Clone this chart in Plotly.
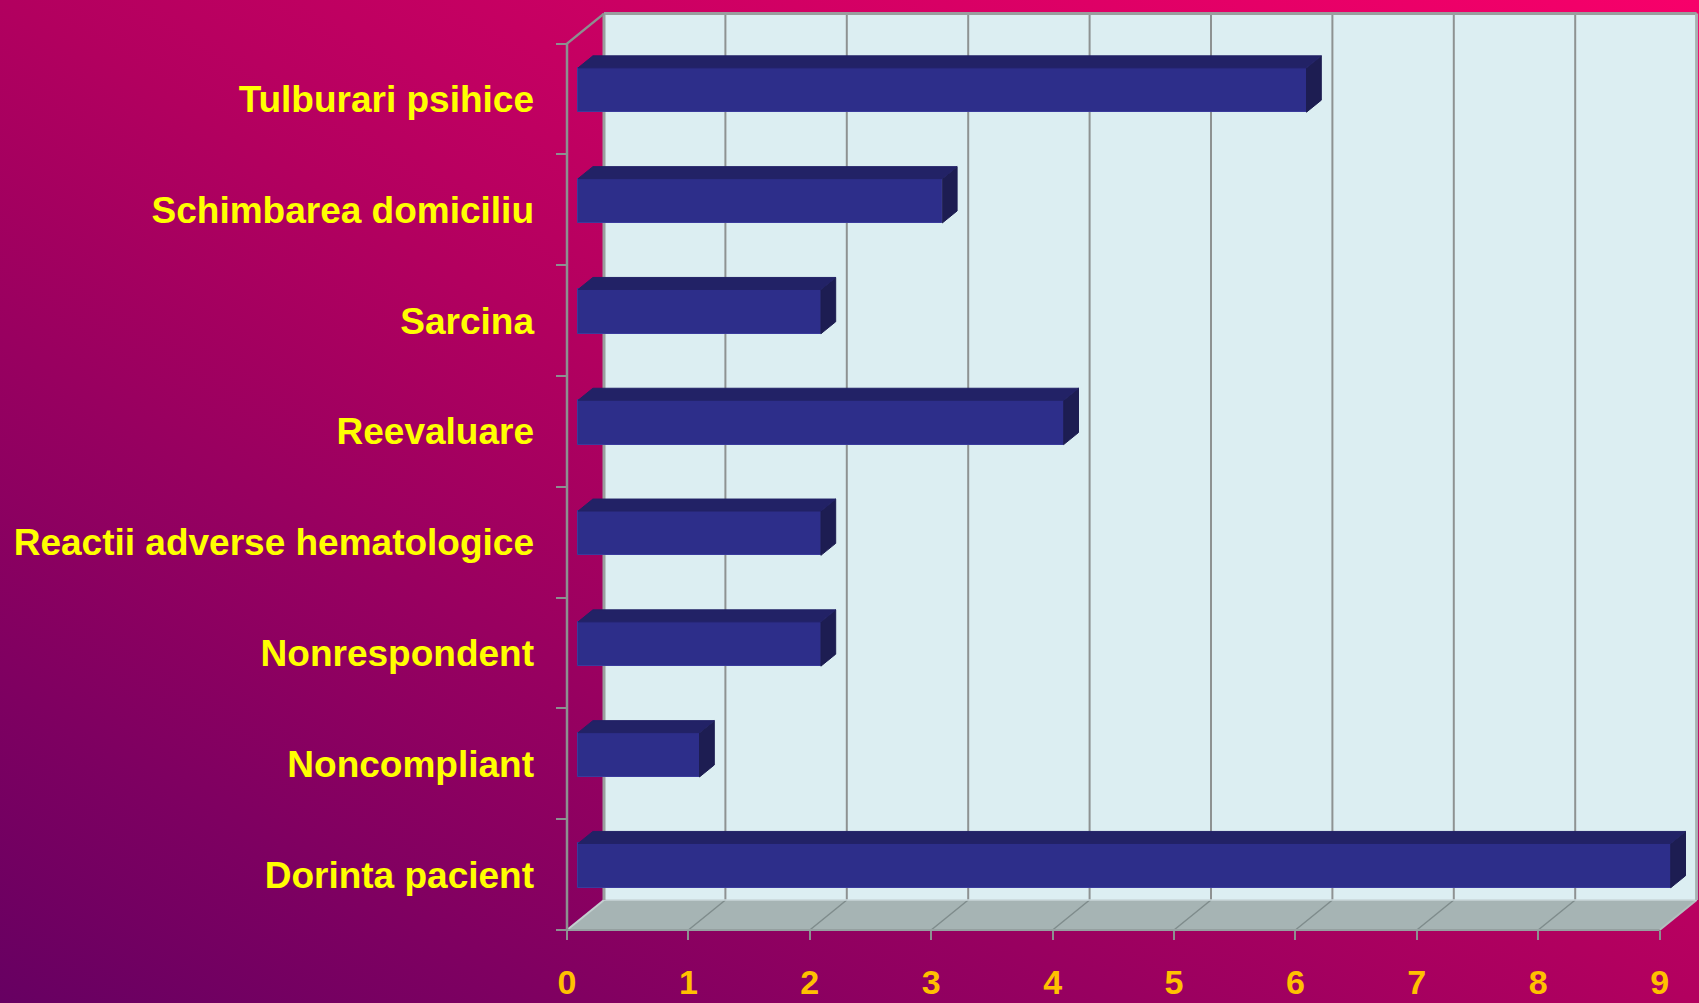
import base64
import plotly.graph_objects as go

# ---------------- data ----------------
categories = ["Dorinta pacient", "Noncompliant", "Nonrespondent",
              "Reactii adverse hematologice", "Reevaluare", "Sarcina",
              "Schimbarea domiciliu", "Tulburari psihice"]
values = [9, 1, 2, 2, 4, 2, 3, 6]
x_ticks = [0, 1, 2, 3, 4, 5, 6, 7, 8, 9]

# ---------------- geometry / style ----------------
W, H = 1699, 1003
ML, MR, MT, MB = 560, 0, 0, 63
AX_X = 567          # pixel of x=0 (front plane)
AX_Y = 930          # pixel of front floor edge
PX_X = 121.4        # pixels per x unit
PX_Y = 110.8        # pixels per category
plotW = W - ML - MR
plotH = H - MT - MB
x_range = [-(AX_X - ML) / PX_X, -(AX_X - ML) / PX_X + plotW / PX_X]
YLO = -0.5
YHI = len(categories) - 0.5
y0 = YLO - (H - MB - AX_Y) / PX_Y
y_range = [y0, y0 + plotH / PX_Y]
DX = 37 / PX_X      # depth offset of back wall (x units)
DY = 30 / PX_Y      # depth offset of back wall (category units)
XMAX = max(x_ticks)
F1, F2 = 0.30, 0.70  # bar front/back position in depth
BW = 0.40

FRONT = "#2D2E8A"
TOP = "#222266"
SIDE = "#1D1D52"
WALL = "#DCEEF2"
FLOOR = "#A6B4B4"
GRID = "#8E9292"
AXIS = "#8C9090"
FONT = "Liberation Sans, Arial, sans-serif"

fig = go.Figure()

# front faces (real bars)
fig.add_trace(go.Bar(
    y=[i + F1 * DY for i in range(len(categories))],
    x=values, base=F1 * DX, orientation="h", width=BW,
    marker=dict(color=FRONT, line=dict(color="#3A3B9C", width=1)),
    hoverinfo="skip", showlegend=False))

# top and side faces derived from values
tx, ty, sx, sy = [], [], [], []
for i, v in enumerate(values):
    b1 = i - BW / 2 + F1 * DY
    t1 = i + BW / 2 + F1 * DY
    b2 = i - BW / 2 + F2 * DY
    t2 = i + BW / 2 + F2 * DY
    xa, xb = F1 * DX, v + F1 * DX
    xc, xd = F2 * DX, v + F2 * DX
    tx += [xa, xb, xd, xc, xa, None]
    ty += [t1, t1, t2, t2, t1, None]
    sx += [xb, xd, xd, xb, xb, None]
    sy += [b1, b2, t2, t1, b1, None]
fig.add_trace(go.Scatter(x=tx, y=ty, fill="toself", fillcolor=TOP, mode="lines",
                         line=dict(color=TOP, width=1), hoverinfo="skip", showlegend=False,
                         yaxis="y2"))
fig.add_trace(go.Scatter(x=sx, y=sy, fill="toself", fillcolor=SIDE, mode="lines",
                         line=dict(color=SIDE, width=1), hoverinfo="skip", showlegend=False))

shapes = []
# back wall
shapes.append(dict(type="rect", xref="x", yref="y", x0=DX, x1=XMAX + DX,
                   y0=YLO + DY, y1=YHI + DY, fillcolor=WALL, line=dict(width=0), layer="below"))
for k in x_ticks[1:-1]:
    shapes.append(dict(type="line", xref="x", yref="y", x0=k + DX, x1=k + DX,
                       y0=YLO + DY, y1=YHI + DY, line=dict(color=GRID, width=2), layer="below"))
# floor
shapes.append(dict(type="path", xref="x", yref="y",
                   path=f"M0,{YLO} L{XMAX},{YLO} L{XMAX + DX},{YLO + DY} L{DX},{YLO + DY} Z",
                   fillcolor=FLOOR, line=dict(width=0), layer="below"))
for k in x_ticks[1:-1]:
    shapes.append(dict(type="line", xref="x", yref="y", x0=k, x1=k + DX,
                       y0=YLO, y1=YLO + DY, line=dict(color="#7F8C8C", width=1.5), layer="below"))
shapes.append(dict(type="line", xref="x", yref="y", x0=0, x1=DX, y0=YLO, y1=YLO + DY,
                   line=dict(color="#C3CFCF", width=2), layer="below"))
shapes.append(dict(type="line", xref="x", yref="y", x0=XMAX, x1=XMAX + DX, y0=YLO, y1=YLO + DY,
                   line=dict(color="#B3BFBF", width=2), layer="below"))
shapes.append(dict(type="line", xref="x", yref="y", x0=DX, x1=XMAX + DX, y0=YLO + DY, y1=YLO + DY,
                   line=dict(color="#C8D6D8", width=1.5), layer="below"))
shapes.append(dict(type="line", xref="x", yref="y", x0=0, x1=XMAX, y0=YLO, y1=YLO,
                   line=dict(color="#95A0A0", width=2), layer="below"))
# wall edges
shapes.append(dict(type="line", xref="x", yref="y", x0=DX, x1=XMAX + DX, y0=YHI + DY, y1=YHI + DY,
                   line=dict(color="#9A9E9E", width=3), layer="below"))
shapes.append(dict(type="line", xref="x", yref="y", x0=DX, x1=DX, y0=YLO + DY, y1=YHI + DY,
                   line=dict(color="#9A9E9E", width=3), layer="below"))
shapes.append(dict(type="line", xref="x", yref="y", x0=XMAX + DX, x1=XMAX + DX, y0=YLO + DY, y1=YHI + DY,
                   line=dict(color="#A8B2B2", width=3), layer="below"))
# front axis line and top diagonal
shapes.append(dict(type="line", xref="x", yref="y", x0=0, x1=0, y0=YLO, y1=YHI,
                   line=dict(color=AXIS, width=2.5), layer="below"))
shapes.append(dict(type="line", xref="x", yref="y", x0=0, x1=DX, y0=YHI, y1=YHI + DY,
                   line=dict(color=AXIS, width=2.5), layer="below"))

# gradient background
svg = (f'<svg xmlns="http://www.w3.org/2000/svg" width="{W}" height="{H}" '
       f'viewBox="0 0 {W} {H}" preserveAspectRatio="none"><defs>'
       '<linearGradient id="g" x1="0" y1="1" x2="1" y2="0">'
       '<stop offset="0" stop-color="#660062"/>'
       '<stop offset="0.5" stop-color="#B2005F"/>'
       '<stop offset="1" stop-color="#F8006A"/>'
       f'</linearGradient></defs><rect width="{W}" height="{H}" fill="url(#g)"/></svg>')
src = "data:image/svg+xml;base64," + base64.b64encode(svg.encode()).decode()

ax_pos_x = (AX_X - ML) / plotW
ax_pos_y = (H - MB - AX_Y) / plotH
EXT = 6

fig.update_layout(
    width=W, height=H, autosize=False,
    margin=dict(l=ML, r=MR, t=MT, b=MB, pad=0, autoexpand=False),
    paper_bgcolor="#A0006A", plot_bgcolor="rgba(0,0,0,0)",
    showlegend=False, bargap=0,
    shapes=shapes,
    images=[dict(source=src, xref="paper", yref="paper",
                 x=-(ML + EXT) / plotW, y=1 + (MT + EXT) / plotH,
                 sizex=(W + 2 * EXT) / plotW, sizey=(H + 2 * EXT) / plotH,
                 xanchor="left", yanchor="top", sizing="stretch", layer="below")],
    xaxis=dict(range=x_range, showgrid=False, zeroline=False, showline=False,
               anchor="free", position=ax_pos_y, automargin=False,
               tickmode="array", tickvals=x_ticks, ticktext=[str(t) for t in x_ticks],
               ticks="outside", ticklen=9, tickwidth=2, tickcolor=AXIS,
               tickfont=dict(family=FONT, size=34, color="#FFC000", weight="bold"),
               ticklabelstandoff=13, fixedrange=True),
    yaxis=dict(range=y_range, showgrid=False, zeroline=False, showline=False,
               anchor="free", position=ax_pos_x, automargin=False,
               tickmode="array", tickvals=[i - 0.5 for i in range(len(categories) + 1)],
               ticks="outside", ticklen=11, tickwidth=2, tickcolor=AXIS,
               showticklabels=False, fixedrange=True),
    yaxis2=dict(range=y_range, overlaying="y", side="left", automargin=False,
                showgrid=False, zeroline=False, showline=False,
                anchor="free", position=ax_pos_x,
                tickmode="array", tickvals=list(range(len(categories))), ticktext=categories,
                ticks="", tickfont=dict(family=FONT, size=37, color="#FFFF00", weight="bold"),
                ticklabelstandoff=33, fixedrange=True),
)

fig.write_html("out.html", config={"displayModeBar": False},
               post_script="document.body.style.margin='0';document.body.style.overflow='hidden';")
